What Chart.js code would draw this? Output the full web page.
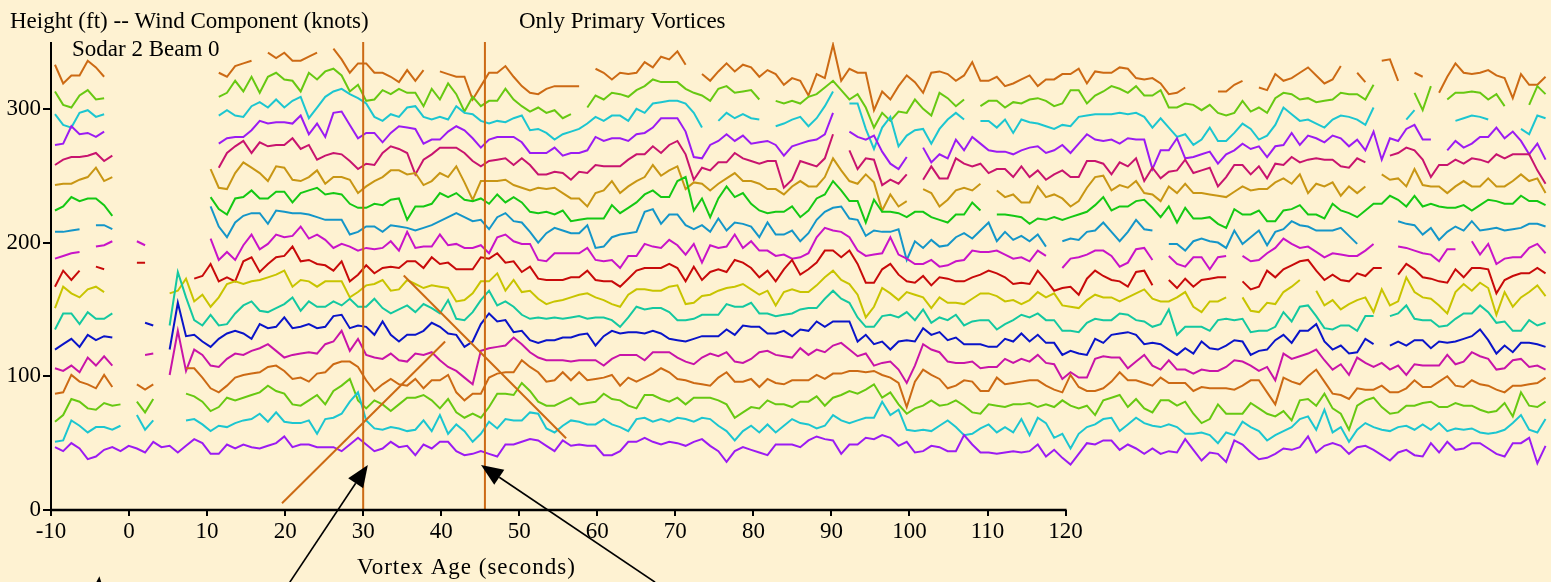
<!DOCTYPE html>
<html>
<head>
<meta charset="utf-8">
<title>Sodar 2 Beam 0 - Wind Component</title>
<script src="https://cdn.jsdelivr.net/npm/chart.js@4.4.0/dist/chart.umd.min.js"></script>
<style>
  html, body { margin: 0; padding: 0; background: #fef2d2; }
  canvas { display: block; }
</style>
</head>
<body>
<canvas id="sodarChart" width="1551" height="582"></canvas>
<script>
// Sample times (seconds of vortex age), one sample about every 1.05 s
const t0 = -9.49;
const dt = 1.0494;
const times = Array.from({length: 183}, (_, i) => t0 + i * dt);

const xTicks = [-10, 0, 10, 20, 30, 40, 50, 60, 70, 80, 90, 100, 110, 120];
const yTicks = [0, 100, 200, 300];

// One trace per range gate, plotted as height (ft) + wind component (knots); null = no data
const s1 = [47,44,50,46,38,40,45,47,44,48,46,43,51,47,48,43,48,53,
  50,42,42,49,46,49,47,46,48,50,55,47,49,49,47,47,47,44,49,54,49,44,46,51,47,48,41,49,46,51,51,44,41,42,
  44,42,40,49,49,51,53,52,48,44,52,48,49,48,48,41,41,44,51,51,54,51,49,51,50,48,51,53,48,44,36,44,47,45,
  43,41,49,49,49,47,52,55,53,52,42,49,49,54,53,56,54,48,51,43,44,48,47,44,44,56,49,43,43,42,43,44,43,44,
  49,40,45,39,34,42,50,49,52,52,45,49,46,42,46,42,44,43,53,45,37,43,42,36,52,49,43,38,39,42,46,45,47,
  55,43,48,50,48,42,47,48,45,41,37,43,45,41,40,50,43,51,45,46,50,50,46,42,40,50,50,54,35,48];
const s2 = [51,52,67,63,58,62,62,60,63,null,71,60,67,null,null,null,67,68,
  64,59,63,62,65,67,68,72,66,73,66,65,65,67,57,68,69,72,81,88,67,61,60,62,61,59,60,67,59,71,57,64,59,51,
  57,66,61,68,67,67,73,72,61,58,63,67,66,64,64,68,64,62,59,68,69,66,68,66,69,68,66,69,68,63,59,52,59,63,
  58,64,58,63,68,65,64,61,63,71,67,65,67,69,69,81,71,75,60,59,60,59,63,67,62,56,57,61,64,58,62,58,68,56,
  69,65,54,57,46,57,62,64,68,69,59,64,69,65,63,62,64,62,57,57,58,56,50,58,56,66,62,59,52,56,59,62,68,
  70,60,75,58,62,51,60,65,62,60,59,62,63,60,64,60,65,59,61,60,61,58,57,58,60,65,71,60,58,68];
const s3 = [66,71,83,81,76,75,80,78,79,null,81,73,83,null,null,null,87,85,
  81,74,77,84,82,84,86,88,93,89,87,79,78,82,86,79,89,93,98,82,76,82,79,74,79,84,84,86,82,76,83,73,69,72,
  69,77,87,87,86,95,89,81,78,78,81,84,79,80,81,87,83,82,78,76,86,86,83,81,84,79,84,84,84,82,79,69,73,77,
  76,82,79,79,77,81,81,85,78,84,86,89,87,90,94,84,88,79,72,76,78,82,78,79,82,78,73,72,79,78,77,79,79,80,
  77,79,77,82,78,76,78,71,82,84,86,77,83,76,73,82,82,78,81,72,65,68,79,72,72,72,80,76,72,70,74,67,82,
  83,78,87,76,72,60,78,82,84,77,72,73,78,78,80,81,77,77,80,78,78,75,73,74,80,70,88,78,77,81];
const s4 = [87,88,101,96,94,91,101,92,null,null,94,90,94,null,null,null,106,106,
  99,91,88,93,99,101,102,103,107,108,104,98,99,96,102,103,109,111,111,107,97,89,94,98,94,93,98,91,97,97,101,88,82,87,
  87,99,102,103,103,112,107,103,96,97,103,97,103,97,98,99,101,93,99,96,99,102,106,103,98,97,95,94,93,99,103,96,96,98,
  92,98,95,94,97,97,97,101,98,102,102,104,104,103,104,101,99,95,77,96,105,101,98,91,93,97,96,89,89,99,94,95,96,97,
  97,93,90,88,101,92,89,89,91,96,103,97,97,95,93,99,95,95,95,89,92,91,91,91,90,93,97,97,88,79,99,96,94,
  100,105,96,87,86,83,91,90,90,93,88,88,91,97,92,92,96,100,93,92,97,94,93,90,88,93,93,94,95,99];
const s5 = [106,104,108,103,114,108,115,108,null,null,null,116,117,null,101,134,104,120,
  116,108,107,113,117,116,119,121,124,119,114,116,117,118,117,124,126,134,119,128,116,114,113,117,112,111,117,116,118,112,107,104,99,94,
  119,121,122,123,129,124,118,114,112,112,112,111,112,112,112,108,113,116,116,116,112,118,118,118,114,111,109,114,117,115,118,111,110,113,
  118,119,116,115,114,121,116,120,118,123,125,120,115,117,108,110,111,105,95,108,124,120,118,111,110,110,111,106,107,107,113,110,113,111,
  116,110,109,98,103,99,99,113,115,114,114,106,111,116,108,105,112,105,105,102,105,104,104,107,112,111,108,104,107,97,117,113,115,
  117,120,112,105,109,101,114,110,107,110,105,108,101,109,108,108,108,116,109,111,118,115,113,105,106,112,113,107,108,105];
const s6 = [120,124,128,122,131,127,130,129,null,null,null,140,138,null,120,155,130,131,
  126,122,128,132,134,132,128,139,136,137,144,136,137,139,136,137,145,146,136,138,137,131,141,131,126,131,131,134,140,137,132,131,122,126,
  139,147,141,142,133,134,127,125,127,127,129,129,131,132,123,130,134,132,133,133,132,134,132,128,127,126,128,130,130,130,135,131,138,137,
  137,132,132,134,130,135,134,141,137,141,141,141,126,131,124,126,120,126,127,126,136,131,133,127,129,124,124,124,122,122,128,126,132,126,
  131,125,125,116,119,117,116,128,125,131,132,133,131,124,125,124,120,116,121,117,126,121,120,123,127,126,116,119,120,127,131,125,134,
  134,139,126,120,123,117,118,128,124,null,123,126,123,127,127,121,126,125,126,128,130,135,127,117,123,118,125,125,124,122];
const s7 = [135,147,147,139,148,143,143,147,null,null,null,null,null,null,138,178,159,142,
  138,146,138,139,147,153,156,149,148,151,154,159,149,156,152,152,156,153,158,152,152,158,151,147,150,153,148,154,151,147,157,143,142,148,
  157,164,153,156,152,146,143,144,143,144,143,144,145,143,144,144,142,137,144,152,150,151,151,148,142,142,143,146,146,146,154,152,152,155,
  147,147,145,146,147,150,151,151,158,164,158,155,144,137,137,145,146,144,148,142,150,140,144,142,146,138,141,142,142,135,139,142,146,144,
  147,142,142,134,134,133,140,143,142,142,147,146,142,141,137,139,150,131,137,137,137,134,142,143,142,143,133,134,134,137,148,141,152,
  153,145,136,135,138,138,134,145,145,null,145,147,153,143,142,142,137,138,143,147,147,153,148,140,141,134,134,142,138,140];
const s8 = [151,167,162,159,165,167,163,null,null,null,null,null,null,null,162,164,173,156,
  161,152,159,169,171,169,171,172,174,176,179,167,172,171,167,171,171,171,159,163,168,169,172,164,165,172,169,166,168,167,166,156,157,162,
  171,171,177,164,172,163,164,158,154,156,157,159,161,162,159,157,154,152,161,165,165,164,164,167,168,154,155,160,161,164,166,167,169,165,
  161,164,153,163,165,163,163,168,174,179,172,169,161,144,152,166,162,157,163,161,159,151,159,155,155,154,158,162,162,160,156,157,154,157,
  163,159,162,153,152,151,157,161,159,159,156,159,162,165,158,156,156,159,163,152,148,156,156,159,null,159,149,148,155,154,163,167,172,
  null,164,153,157,150,154,157,159,148,165,153,156,174,163,159,158,153,147,163,169,164,170,166,146,163,152,159,163,168,160];
const s9 = [167,179,172,179,null,182,180,null,null,null,185,185,null,null,null,null,null,173,
  175,184,171,174,171,186,189,178,184,189,190,197,186,187,184,183,179,186,171,176,183,177,181,182,181,186,186,181,189,184,185,180,180,180,
  189,188,192,185,186,178,182,173,172,172,172,174,174,179,172,171,171,167,173,179,181,181,181,184,181,171,182,172,178,180,178,187,185,181,
  174,179,171,180,187,176,180,185,194,194,189,194,184,170,170,180,184,176,171,170,175,168,174,173,171,171,174,176,179,177,174,169,170,169,
  179,172,164,166,167,161,173,179,175,172,171,167,178,179,168,null,172,166,173,167,172,173,174,174,null,171,165,167,179,174,180,183,186,
  187,179,172,176,172,171,177,175,181,181,null,176,184,180,174,173,171,170,180,174,181,181,180,162,172,175,177,177,181,177];
const s10 = [188,190,192,193,null,197,198,201,null,null,201,198,null,null,null,null,null,null,
  null,203,187,193,187,198,206,195,199,206,204,205,212,203,206,202,196,199,197,194,196,195,196,201,194,208,196,197,197,206,198,199,196,196,
  198,192,204,206,201,199,199,187,186,192,192,192,192,196,187,186,187,181,190,190,199,197,196,202,198,191,199,185,198,196,197,206,196,201,
  194,194,190,191,188,189,192,204,211,209,208,204,194,190,191,192,204,191,188,184,184,187,182,183,186,187,194,193,193,194,191,188,189,186,
  194,190,null,181,188,189,191,194,194,190,182,185,195,196,187,null,190,184,182,189,189,180,189,190,null,190,186,187,192,196,203,199,196,
  197,193,189,192,191,190,190,194,199,null,null,197,196,194,192,191,186,195,195,null,201,191,199,184,188,189,189,196,199,192];
const s11 = [208,208,209,210,null,213,213,210,null,null,null,null,null,null,null,null,null,null,
  null,227,212,204,215,220,222,222,214,224,223,222,222,221,219,217,217,217,206,208,212,212,208,213,212,211,209,211,213,216,219,222,219,216,
  217,210,219,222,216,215,208,200,207,211,209,207,207,213,196,197,204,206,207,208,223,225,214,221,221,213,210,213,208,218,209,215,214,212,
  204,215,206,206,209,201,207,217,223,226,227,218,217,205,209,208,208,210,187,201,196,202,197,198,204,207,203,209,215,201,208,202,205,201,
  206,197,null,201,203,202,208,209,215,208,201,208,217,210,209,null,199,199,194,201,203,201,200,196,209,199,204,209,198,208,210,216,213,
  212,209,209,209,211,205,199,null,null,null,null,216,214,213,206,211,202,208,212,209,216,209,210,211,209,210,211,214,214,212];
const s12 = [224,227,234,231,233,233,228,220,null,null,null,null,null,null,null,null,null,null,
  null,234,225,221,233,234,239,233,233,238,238,230,237,239,241,236,237,236,229,226,226,229,228,232,233,217,227,227,229,237,234,237,232,231,
  233,229,236,230,234,230,223,222,223,221,224,216,217,218,218,218,228,222,226,230,236,239,234,234,246,249,224,233,219,233,242,234,237,229,
  224,222,223,223,227,219,224,233,236,246,239,231,231,215,232,223,223,222,219,223,223,219,217,215,221,221,230,224,null,221,221,220,219,214,
  218,217,219,217,219,221,223,228,234,224,227,227,231,232,226,219,227,215,226,218,218,219,214,211,225,221,221,224,216,216,224,225,228,
  221,221,218,229,224,222,219,224,229,229,235,232,227,235,227,229,227,226,226,228,224,228,232,231,229,229,235,231,231,228];
const s13 = [243,244,244,247,249,256,246,249,null,null,null,null,null,null,null,null,null,null,
  null,255,241,240,252,260,256,252,246,257,256,247,246,249,254,244,249,249,247,237,242,246,249,254,254,251,252,243,246,252,249,257,245,232,
  246,246,246,247,243,241,239,241,240,241,237,233,233,227,237,239,246,237,242,246,249,258,250,254,257,240,245,244,239,244,248,252,246,246,
  244,240,240,236,242,246,242,242,249,263,254,246,244,251,245,224,236,227,231,null,240,237,227,232,239,241,239,244,null,239,234,236,230,230,
  242,234,236,233,227,231,241,249,250,239,243,241,246,237,236,231,242,237,244,237,237,236,235,234,238,242,239,240,240,245,248,244,251,
  237,244,242,245,235,242,237,242,null,251,247,248,242,255,243,242,242,237,242,246,242,242,248,242,242,246,251,246,248,237];
const s14 = [258,262,264,264,265,267,261,265,null,null,null,null,null,null,null,null,null,null,
  null,null,256,267,272,276,267,275,272,273,273,278,270,273,262,265,267,266,261,255,259,258,267,272,270,267,251,262,266,271,271,271,267,261,
  257,261,262,263,258,263,258,251,251,253,252,247,253,252,258,257,257,257,262,266,266,272,267,273,276,266,247,256,254,260,260,267,263,261,
  259,261,261,241,247,261,259,257,263,281,null,269,255,263,262,243,247,244,251,null,247,257,248,248,263,259,257,259,252,255,255,249,257,249,
  254,247,251,254,249,249,261,261,259,251,260,257,263,246,256,248,253,254,262,252,254,256,242,249,258,258,251,257,248,259,258,264,260,
  262,263,262,262,257,256,263,260,null,null,265,267,271,269,262,249,258,258,262,259,263,262,260,266,263,266,266,266,254,244];
const s15 = [273,274,287,281,282,279,283,null,null,null,null,null,null,null,null,null,null,null,
  null,null,274,278,279,279,284,291,289,290,290,289,295,281,289,279,297,298,288,278,282,282,275,282,287,286,285,274,277,277,283,287,284,278,
  271,277,279,279,279,275,267,267,267,271,265,267,267,269,279,276,278,278,276,281,282,286,293,293,293,283,264,263,273,276,281,276,280,274,
  275,276,273,265,272,274,276,277,281,297,null,283,279,277,280,268,259,255,264,null,271,260,266,263,277,269,279,274,269,268,268,266,269,271,
  272,267,269,273,267,274,281,277,276,277,274,278,277,277,255,269,269,278,263,264,266,268,259,266,269,274,270,272,264,272,273,282,273,
  280,278,275,280,278,272,277,269,283,262,278,276,285,288,277,277,null,269,276,271,274,279,279,286,278,283,276,266,274,262];
const s16 = [296,288,286,297,299,294,296,null,null,null,null,null,null,null,null,null,null,null,
  null,null,295,299,295,294,302,305,301,307,301,306,309,293,301,309,313,315,311,308,304,294,291,296,294,301,302,294,292,294,292,302,297,296,
  291,289,291,290,293,295,284,285,282,277,281,283,285,289,294,291,295,295,291,300,297,304,305,306,306,304,297,286,null,291,297,293,296,293,
  292,null,287,289,292,294,287,293,302,313,null,304,304,285,270,286,294,272,280,284,285,274,285,292,297,292,null,291,291,286,292,282,292,290,
  289,287,285,288,287,294,295,296,296,296,297,296,297,294,286,293,286,279,281,273,277,286,276,276,282,289,285,277,280,288,301,296,291,
  292,289,286,292,295,294,292,288,301,null,null,null,292,299,null,null,null,null,291,293,295,294,292,null,null,null,285,281,295,293];
const s17 = [313,303,301,310,314,307,308,null,null,null,null,null,null,null,null,null,null,null,
  null,null,309,312,321,313,324,312,324,327,322,321,313,327,322,328,330,325,313,318,306,307,314,311,315,312,312,302,315,307,319,311,298,309,
  302,306,306,315,307,302,298,301,297,299,293,296,null,301,310,307,312,311,309,314,317,322,320,320,320,315,312,310,306,315,317,312,313,314,
  307,null,306,304,306,304,309,311,316,321,314,307,311,301,286,297,291,298,297,307,300,295,312,308,302,307,null,302,306,306,301,305,304,307,
  308,306,302,304,314,314,304,310,313,317,315,312,317,310,310,314,301,301,304,303,299,303,297,295,297,306,298,301,297,308,312,311,307,
  308,305,306,307,312,311,311,307,318,null,null,null,null,312,299,317,null,307,312,312,313,312,307,311,302,null,null,303,317,311];
const s18 = [333,319,325,325,336,331,324,null,null,null,null,null,null,null,null,null,null,null,
  null,null,327,324,332,334,336,null,342,338,342,336,336,339,342,null,345,337,327,334,334,327,327,324,320,329,321,329,null,328,326,324,324,307,
  317,327,327,332,324,317,312,311,315,317,317,317,317,null,330,327,322,327,326,327,335,331,339,337,343,333,null,326,321,328,334,328,333,331,
  324,329,326,318,323,321,310,326,323,348,321,330,327,327,299,313,307,317,325,320,312,327,328,326,321,325,335,321,321,324,317,319,322,325,
  317,322,322,326,326,330,319,328,327,327,331,330,323,322,323,319,311,312,316,null,null,null,313,313,318,321,null,316,314,326,321,323,327,
  331,325,319,322,332,null,327,320,null,336,337,321,null,327,324,null,312,324,334,327,326,327,329,325,323,308,326,318,318,324];

const lineColors = ['#9b1bf2', '#1cc6d0', '#67c812', '#cc6a14', '#c814a8', '#0a14c8',
  '#14c8a0', '#c8c400', '#c80a0a', '#c814c8', '#1496c8', '#14c814',
  '#c89614', '#c8146e', '#9b1bf2', '#1cc6d0', '#67c812', '#cc6a14'];

// Hand-drawn marks (data units): vortex times, tracks [x1, y1, x2, y2], arrows [tailX, tailY, tipX, tipY]
const vortexLines = [30, 45.6];
const trackLines = [[19.6, 5, 40.5, 126], [35.2, 175.4, 56.0, 53.7]];
const arrows = [[20.6, -54, 30.6, 33.7], [67.4, -54, 45.1, 33.7], [-4.1, -70, -3.8, -49.5]];

const series = [s1, s2, s3, s4, s5, s6, s7, s8, s9, s10, s11, s12, s13, s14, s15, s16, s17, s18];
const serif = '"Liberation Serif", "Times New Roman", serif';

const paperPlugin = {
  id: 'paper',
  beforeDraw(chart) {
    const c = chart.ctx;
    c.save();
    c.fillStyle = '#fef2d2';
    c.fillRect(0, 0, chart.width, chart.height);
    c.restore();
  }
};

const marksPlugin = {
  id: 'marks',
  afterDatasetsDraw(chart) {
    const c = chart.ctx;
    const x = chart.scales.x, y = chart.scales.y;
    const area = chart.chartArea;
    c.save();
    c.strokeStyle = '#cc6a14';
    c.lineWidth = 2;
    vortexLines.forEach(v => {
      const px = x.getPixelForValue(v);
      c.beginPath();
      c.moveTo(px, area.top);
      c.lineTo(px, area.bottom);
      c.stroke();
    });
    trackLines.forEach(l => {
      c.beginPath();
      c.moveTo(x.getPixelForValue(l[0]), y.getPixelForValue(l[1]));
      c.lineTo(x.getPixelForValue(l[2]), y.getPixelForValue(l[3]));
      c.stroke();
    });
    // arrows
    c.strokeStyle = '#000';
    c.fillStyle = '#000';
    c.lineWidth = 1.6;
    arrows.forEach(a => {
      const x1 = x.getPixelForValue(a[0]), y1 = y.getPixelForValue(a[1]);
      const x2 = x.getPixelForValue(a[2]), y2 = y.getPixelForValue(a[3]);
      const ang = Math.atan2(y2 - y1, x2 - x1);
      const len = 22, half = 9;
      const bx = x2 - len * Math.cos(ang), by = y2 - len * Math.sin(ang);
      c.beginPath();
      c.moveTo(x1, y1);
      c.lineTo(bx, by);
      c.stroke();
      c.beginPath();
      c.moveTo(x2, y2);
      c.lineTo(bx + half * Math.sin(ang), by - half * Math.cos(ang));
      c.lineTo(bx - half * Math.sin(ang), by + half * Math.cos(ang));
      c.closePath();
      c.fill();
    });
    c.restore();
  },
  afterDraw(chart) {
    const c = chart.ctx;
    const x = chart.scales.x;
    const {left, top, bottom} = chart.chartArea;
    c.save();
    // axis lines; the time axis stops at 120 s
    c.strokeStyle = '#000';
    c.lineWidth = 2;
    c.beginPath();
    c.moveTo(left, top);
    c.lineTo(left, bottom + 1);
    c.stroke();
    c.lineWidth = 2.5;
    c.beginPath();
    c.moveTo(left - 1, bottom);
    c.lineTo(x.getPixelForValue(120) + 1, bottom);
    c.stroke();
    // titles
    c.fillStyle = '#000';
    c.font = '23px ' + serif;
    c.textBaseline = 'alphabetic';
    c.textAlign = 'left';
    c.fillText('Height (ft) -- Wind Component (knots)', 10, 27.5);
    c.fillText('Only Primary Vortices', 519, 27.5);
    c.fillText('Sodar 2 Beam 0', 72, 56);
    c.letterSpacing = '1px';
    c.fillText('Vortex Age (seconds)', 357, 574);
    c.restore();
  }
};

const ctx = document.getElementById('sodarChart').getContext('2d');

const chart = new Chart(ctx, {
  type: 'line',
  data: {
    datasets: series.map((s, k) => ({
      data: times.map((t, i) => ({ x: t, y: s[i] ?? null })),
      borderColor: lineColors[k],
      borderWidth: 2,
      pointRadius: 0,
      tension: 0,
      spanGaps: false,
      fill: false
    }))
  },
  options: {
    responsive: false,
    animation: false,
    devicePixelRatio: 1,
    layout: { padding: { top: 42, left: 0, right: 0, bottom: 0 } },
    plugins: { legend: { display: false }, tooltip: { enabled: false } },
    scales: {
      x: {
        type: 'linear',
        min: -10,
        max: 182.2,
        afterBuildTicks: axis => { axis.ticks = xTicks.map(v => ({ value: v })); },
        afterFit: axis => { axis.height = 72; },
        grid: { drawOnChartArea: false, drawTicks: true, tickLength: 6, color: '#000', lineWidth: 2 },
        border: { display: false },
        ticks: {
          color: '#000',
          font: { family: serif, size: 23 },
          padding: 2,
          maxRotation: 0,
          autoSkip: false,
          callback: v => String(v)
        }
      },
      y: {
        type: 'linear',
        min: 0,
        max: 350,
        afterBuildTicks: axis => { axis.ticks = yTicks.map(v => ({ value: v })); },
        afterFit: axis => { axis.width = 51; },
        grid: { drawOnChartArea: false, drawTicks: true, tickLength: 8, color: '#000', lineWidth: 2 },
        border: { display: false },
        ticks: {
          color: '#000',
          font: { family: serif, size: 23 },
          padding: 2,
          callback: v => String(v)
        }
      }
    }
  },
  plugins: [paperPlugin, marksPlugin]
});
</script>
</body>
</html>
